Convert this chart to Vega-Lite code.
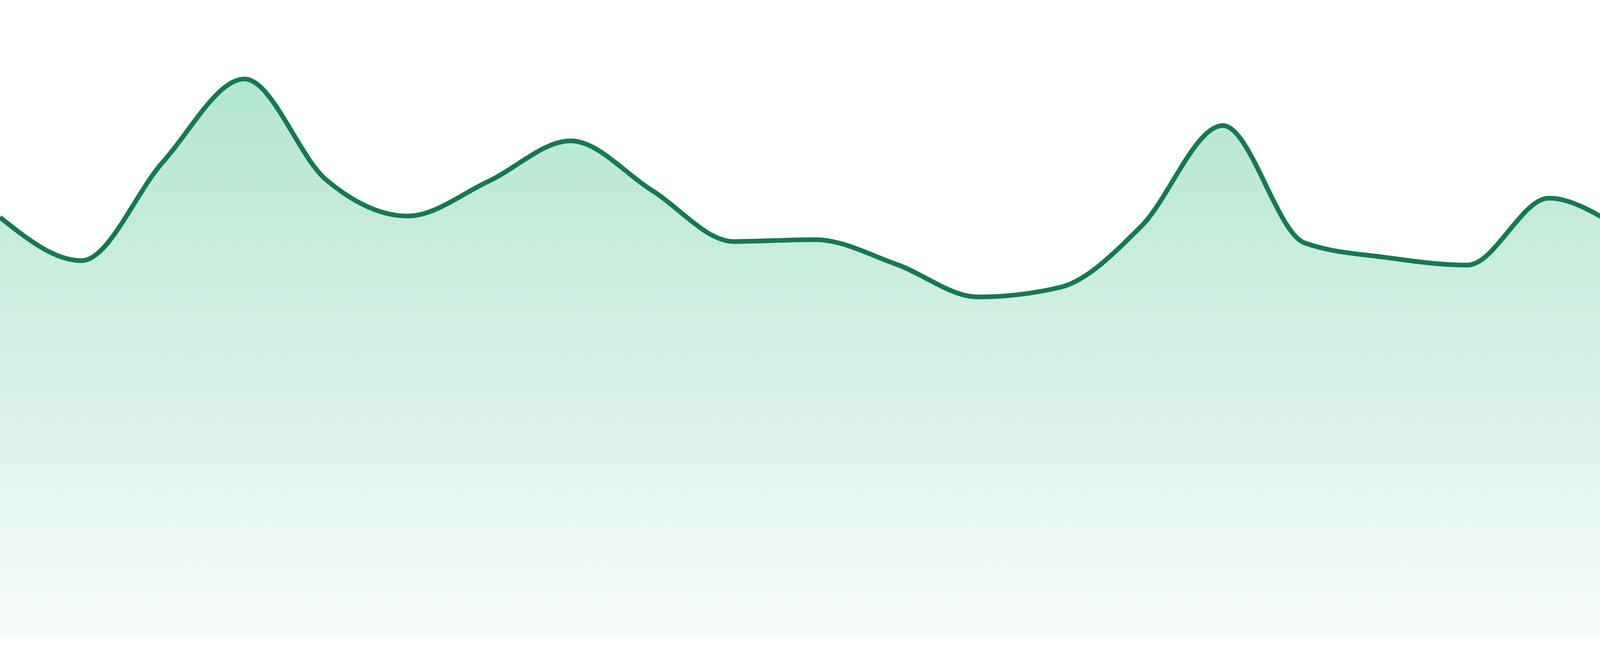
{
  "$schema": "https://vega.github.io/schema/vega-lite/v6.json",
  "width": 4800,
  "height": 1632,
  "autosize": "none",
  "padding": 0,
  "background": "white",
  "data": {
    "values": [
      {"day": 0, "value": 65.9},
      {"day": 1, "value": 59.1},
      {"day": 2, "value": 74.6},
      {"day": 3, "value": 87.6},
      {"day": 4, "value": 71.8},
      {"day": 5, "value": 66.1},
      {"day": 6, "value": 71.6},
      {"day": 7, "value": 77.9},
      {"day": 8, "value": 70.1},
      {"day": 9, "value": 62.1},
      {"day": 10, "value": 62.4},
      {"day": 11, "value": 58.5},
      {"day": 12, "value": 53.4},
      {"day": 13, "value": 54.9},
      {"day": 14, "value": 64.5},
      {"day": 15, "value": 80.3},
      {"day": 16, "value": 61.9},
      {"day": 17, "value": 59.6},
      {"day": 18, "value": 58.4},
      {"day": 19, "value": 68.9},
      {"day": 20, "value": 63.5},
      {"day": 21, "value": 56.5},
      {"day": 22, "value": 63.5},
      {"day": 23, "value": 61.3}
    ]
  },
  "encoding": {
    "x": {
      "field": "day",
      "type": "quantitative",
      "scale": {"domain": [0, 23], "nice": false, "zero": false},
      "axis": null
    },
    "y": {
      "field": "value",
      "type": "quantitative",
      "scale": {"domain": [0, 100], "nice": false},
      "axis": null
    }
  },
  "layer": [
    {
      "mark": {
        "type": "area",
        "interpolate": "monotone",
        "color": {
          "gradient": "linear",
          "x1": 0,
          "y1": 0,
          "x2": 0,
          "y2": 1,
          "stops": [
            {"offset": 0, "color": "#b3e6d0"},
            {"offset": 1, "color": "#f8fcfa"}
          ]
        }
      }
    },
    {
      "mark": {
        "type": "line",
        "interpolate": "monotone",
        "color": "#127b52",
        "strokeWidth": 12
      }
    }
  ],
  "config": {
    "view": {"stroke": null}
  }
}
